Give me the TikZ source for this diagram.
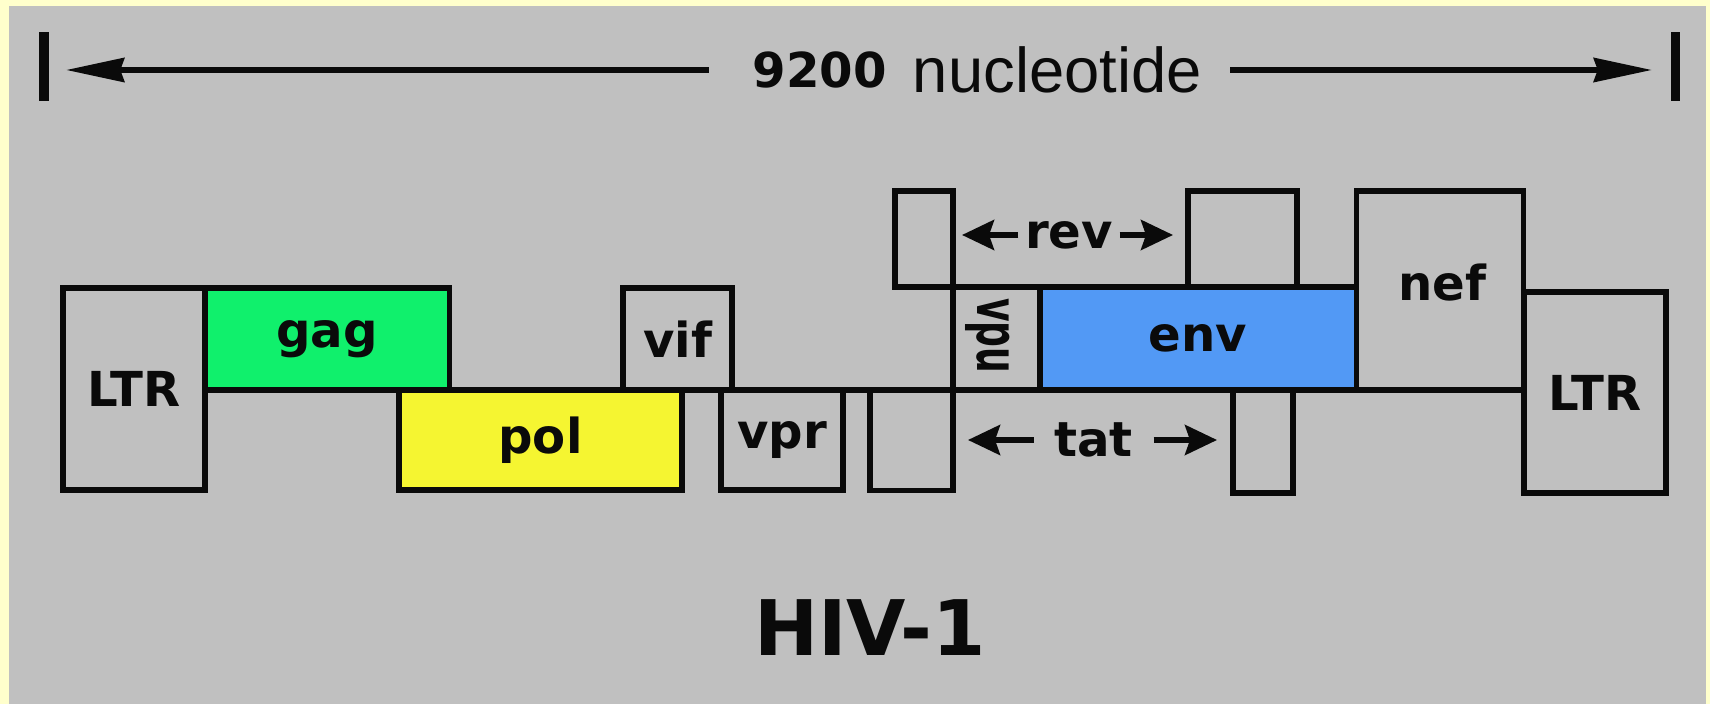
\documentclass[tikz,border=0pt]{standalone}
\usepackage{fontspec}
\setmainfont{DejaVu Sans}
\newfontfamily\unitfont{Liberation Sans}
\usepackage{graphicx}
\usetikzlibrary{arrows.meta, positioning}
\usepackage{xcolor}
\definecolor{frame}{HTML}{FFFFCC}
\definecolor{canvas}{HTML}{C0C0C0}
\definecolor{ink}{HTML}{0A0A0A}
\definecolor{gaggreen}{HTML}{10F06C}
\definecolor{polyellow}{HTML}{F5F531}
\definecolor{envblue}{HTML}{5299F5}

\begin{document}
\begin{tikzpicture}[
    x=0.01cm, y=-0.01cm,
    gene/.style={rectangle, draw=ink, line width=1.5pt,
                 outer sep=0pt, inner sep=0pt, text=ink,
                 font=\fontsize{13.7pt}{16pt}\selectfont\bfseries},
    lbl/.style={inner sep=0pt, text=ink,
                font=\fontsize{13.7pt}{16pt}\selectfont\bfseries},
    endbar/.style={rectangle, fill=ink, inner sep=0pt,
                   minimum width=0.09cm, minimum height=0.69cm},
    dimarr/.style={-{Stealth[length=0.58cm, width=0.24cm, inset=0.04cm]}, line width=1.5pt, color=ink},
    lblarr/.style={-{Stealth[length=0.32cm, width=0.3cm, inset=0.05cm]}, line width=1.5pt, color=ink},
  ]
    \useasboundingbox (0,0) rectangle (1710,704);
    \fill[frame] (0,0) rectangle (1710,704);
    \fill[canvas] (9,6) rectangle (1706,704);

    % Scale bar
    \node[lbl] (num) at (819.5,70) {9200};
    \node[inner sep=0pt, text=ink, font=\unitfont\fontsize{18pt}{21pt}\selectfont,
          right=0.25cm of num] (unit) {nucleotide};
    \foreach \b/\x in {barL/44, barR/1675}
      \node[endbar] (\b) at (\x,66.5) {};
    \draw[dimarr, shorten <=0.43cm, shorten >=0.17cm] (num.west) -- (num.west -| barL.east);
    \draw[dimarr, shorten <=0.28cm, shorten >=0.18cm] (unit.east) -- (unit.east -| barR.west);

    % Genes
    \node[gene, minimum width=1.42cm, minimum height=2.02cm] (ltrL) at (134,389) {LTR};
    \node[gene, fill=gaggreen, minimum width=2.44cm, minimum height=1.02cm,
          anchor=north west] (gag) at (ltrL.north east) {gag};
    \node[gene, fill=polyellow, minimum width=2.83cm, minimum height=1.00cm] (pol) at (540.5,440) {pol};
    \node[gene, minimum width=1.09cm, minimum height=1.02cm] (vif) at (677.5,339) {vif};
    \node[gene, minimum width=1.22cm, minimum height=1.00cm] (vpr) at (782,440) {vpr};
    \node[gene, minimum width=0.58cm, minimum height=0.96cm] (revA) at (924,239) {};
    \node[gene, minimum width=0.87cm, minimum height=1.03cm,
          anchor=north west] (vpu) at (revA.south east) {};
    \node[gene, minimum width=0.83cm, minimum height=1.00cm,
          anchor=north east] (tatA) at (vpu.south west) {};
    \node[gene, fill=envblue, minimum width=3.16cm, minimum height=1.03cm,
          anchor=north west] (env) at (vpu.north east) {env};
    \node[gene, minimum width=1.09cm, minimum height=0.96cm] (revB) at (1242.5,239) {};
    \node[gene, minimum width=0.60cm, minimum height=1.03cm] (tatB) at (1263,441.5) {};
    \node[gene, minimum width=1.67cm, minimum height=1.99cm,
          anchor=south west] (nef) at (env.south east) {};
    \node[gene, minimum width=1.42cm, minimum height=2.01cm] (ltrR) at (1595,392.5) {LTR};

    \draw[ink, line width=1.5pt] (gag.south west) -- (gag.south west -| ltrR.west);

    % Labels
    \node[lbl] (neflbl) at (1442,283) {nef};
    \node[lbl, rotate=-90] (vpulbl) at (988,336) {\scalebox{0.75}[1.2]{vpu}};
    \node[lbl, inner xsep=0.06cm] (revlbl) at (1069,235) {rev};
    \node[lbl, inner xsep=0.2cm] (tatlbl) at (1093.5,440) {tat};
    \coordinate (revL) at (962,235);
    \coordinate (revR) at (1173,235);
    \coordinate (tatL) at (968,440);
    \coordinate (tatR) at (1217,440);
    \draw[lblarr] (revlbl.west) -- (revL);
    \draw[lblarr] (revlbl.east) -- (revR);
    \draw[lblarr] (tatlbl.west) -- (tatL);
    \draw[lblarr] (tatlbl.east) -- (tatR);

    \node[lbl, font=\fontsize{21.8pt}{26pt}\selectfont\bfseries] (virus) at (870,628) {HIV-1};
  \end{tikzpicture}
\end{document}
